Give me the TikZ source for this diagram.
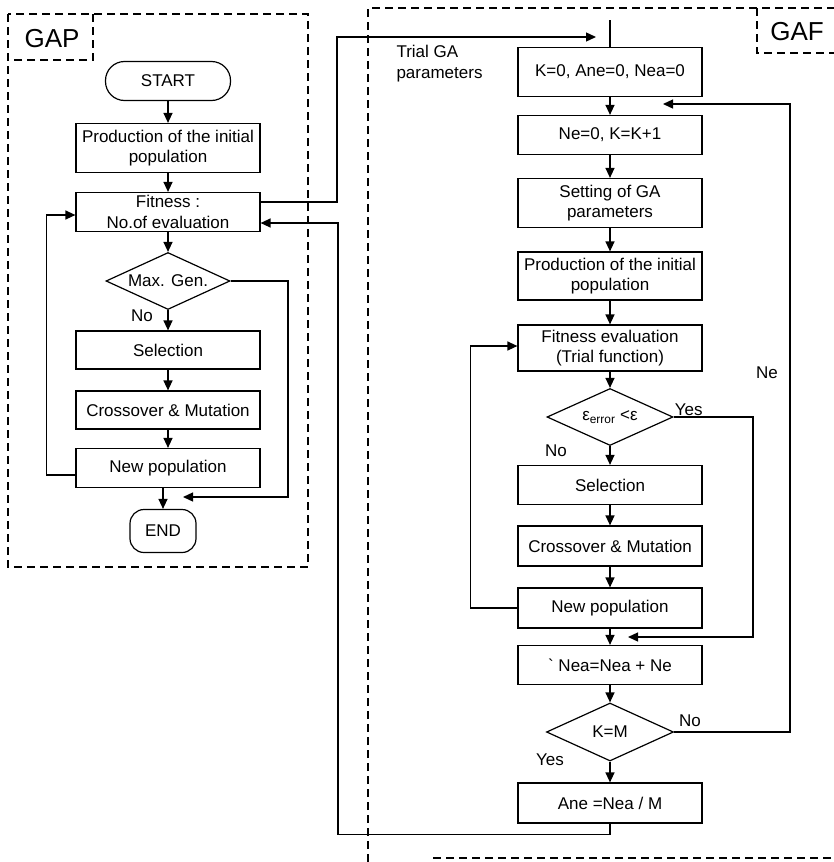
\documentclass[tikz,border=0pt]{standalone}
\usepackage{fontspec}
\setmainfont{Liberation Sans}
\usetikzlibrary{shapes.geometric, arrows.meta, calc}

\begin{document}
\begin{tikzpicture}[x=1pt, y=-1pt,
    every node/.style={font=\fontsize{17}{20.5}\selectfont},
    box/.style={draw, line width=1.2pt, minimum width=184pt, align=center, inner sep=1pt},
    term/.style={draw, line width=1.2pt, align=center},
    decision/.style={draw, diamond, line width=1.2pt, inner sep=0pt, shape aspect=2.2},
    flow/.style={line width=1.3pt, -{Triangle[length=10pt,width=9pt]}},
    link/.style={line width=1.2pt},
    frame/.style={line width=1.8pt, dash pattern=on 8pt off 5pt},
    biglabel/.style={font=\fontsize{26}{30}\selectfont}]
        \useasboundingbox (0,0) rectangle (834,862);

        % GAP frame
        \draw[frame] (8,14) rectangle (308,567);
        \draw[frame] (93,14) -- (93,60) -- (8,60);
        \node[biglabel] (gap) at (52,39) {GAP};

        \node[term, minimum width=125pt, minimum height=39pt, rounded corners=19pt] (start) at (168,81) {START};
        \node[box, minimum height=49pt] (prod1) at (168,148) {Production of the initial\\population};
        \node[box, minimum height=39pt] (fit1) at (168,212) {Fitness :\\No.of evaluation};
        \node[decision, minimum width=124pt, minimum height=57pt] (maxgen) at (168,281) {Max. Gen.};
        \node[box, minimum height=38pt] (sel1) at (168,350) {Selection};
        \node[box, minimum height=38pt] (cross1) at (168,410) {Crossover \& Mutation};
        \node[box, minimum height=39pt] (newpop1) at (168,468) {New population};
        \node[term, minimum width=66pt, minimum height=43pt, rounded corners=14pt] (end) at (163,531) {END};
        \node (no1) at (142,316) {No};

        \draw[flow] (start) -- (prod1);
        \draw[flow] (prod1) -- (fit1);
        \draw[flow] (fit1) -- (maxgen);
        \draw[flow] (maxgen) -- (sel1);
        \draw[flow] (sel1) -- (cross1);
        \draw[flow] (cross1) -- (newpop1);
        \draw[flow] (newpop1.south -| end.north) -- (end);
        \draw[flow] ([yshift=-7pt]newpop1.west) -- ++(-29,0) |- ([yshift=-3pt]fit1.west);
        \coordinate (gapjoin) at (183,497);
        \draw[flow] (maxgen.east) -| (288,497) -- (gapjoin);

        % GAF frame
        \draw[frame] (368,862) -- (368,8) -- (834,8);
        \draw[frame] (433,858) -- (834,858);
        \draw[frame] (757,8) -- (757,53) -- (834,53);
        \node[biglabel] (gaf) at (797,32) {GAF};

        \node[box, minimum height=49pt] (init) at (610,72) {K=0, Ane=0, Nea=0};
        \node[box, minimum height=39pt] (ne0) at (610,135) {Ne=0, K=K+1};
        \node[box, minimum height=49pt] (setga) at (610,203) {Setting of GA\\parameters};
        \node[box, minimum height=48pt] (prod2) at (610,276) {Production of the initial\\population};
        \node[box, minimum height=46pt] (fit2) at (610,348) {Fitness evaluation\\(Trial function)};
        \node[decision, minimum width=126pt, minimum height=57pt] (eps) at (610,417) {ε\textsubscript{error} <ε};
        \node[box, minimum height=39pt] (sel2) at (610,485) {Selection};
        \node[box, minimum height=40pt] (cross2) at (610,546) {Crossover \& Mutation};
        \node[box, minimum height=40pt] (newpop2) at (610,608) {New population};
        \node[box, minimum height=39pt] (nea) at (610,665) {\textasciigrave\ Nea=Nea + Ne};
        \node[decision, minimum width=127pt, minimum height=58pt] (km) at (610,732) {K=M};
        \node[box, minimum height=40pt] (ane) at (610,803) {Ane =Nea / M};

        \node[anchor=south west, inner sep=1pt] (yes1) at (eps.east) {Yes};
        \node (no2) at (556,451) {No};
        \node (no3) at (690,721) {No};
        \node (yes2) at (550,760) {Yes};
        \node (ne) at (767,373) {Ne};
        \node[align=left, anchor=north west] (trial) at (393,42) {Trial GA\\parameters};

        \draw[flow] (init) -- (ne0);
        \draw[flow] (ne0) -- (setga);
        \draw[flow] (setga) -- (prod2);
        \draw[flow] (prod2) -- (fit2);
        \draw[flow] (fit2) -- (eps);
        \draw[flow] (eps) -- (sel2);
        \draw[flow] (sel2) -- (cross2);
        \draw[flow] (cross2) -- (newpop2);
        \draw[flow] (newpop2) -- (nea);
        \draw[flow] (nea) -- (km);
        \draw[flow] (km) -- (ane);

        \draw[flow] (newpop2.west) -- ++(-47,0) |- ([yshift=2pt]fit2.west);
        \coordinate (gafjoin) at (628,637);
        \draw[flow] (eps.east) -| (753,637) -- (gafjoin);
        \coordinate (nejoin) at (663,104);
        \draw[flow] (km.east) -| (790,104) -- (nejoin);

        % links between the two frames
        \coordinate (entry) at (610,20);
        \draw[link] (entry) -- (init);
        \coordinate (trialin) at (596,37);
        \draw[flow] ([yshift=10pt]fit1.east) -| (337,37) -- (trialin);
        \draw[flow] (ane.south) -- ++(0,11) -| (338,223) -- ([yshift=-11pt]fit1.east);
\end{tikzpicture}
\end{document}
